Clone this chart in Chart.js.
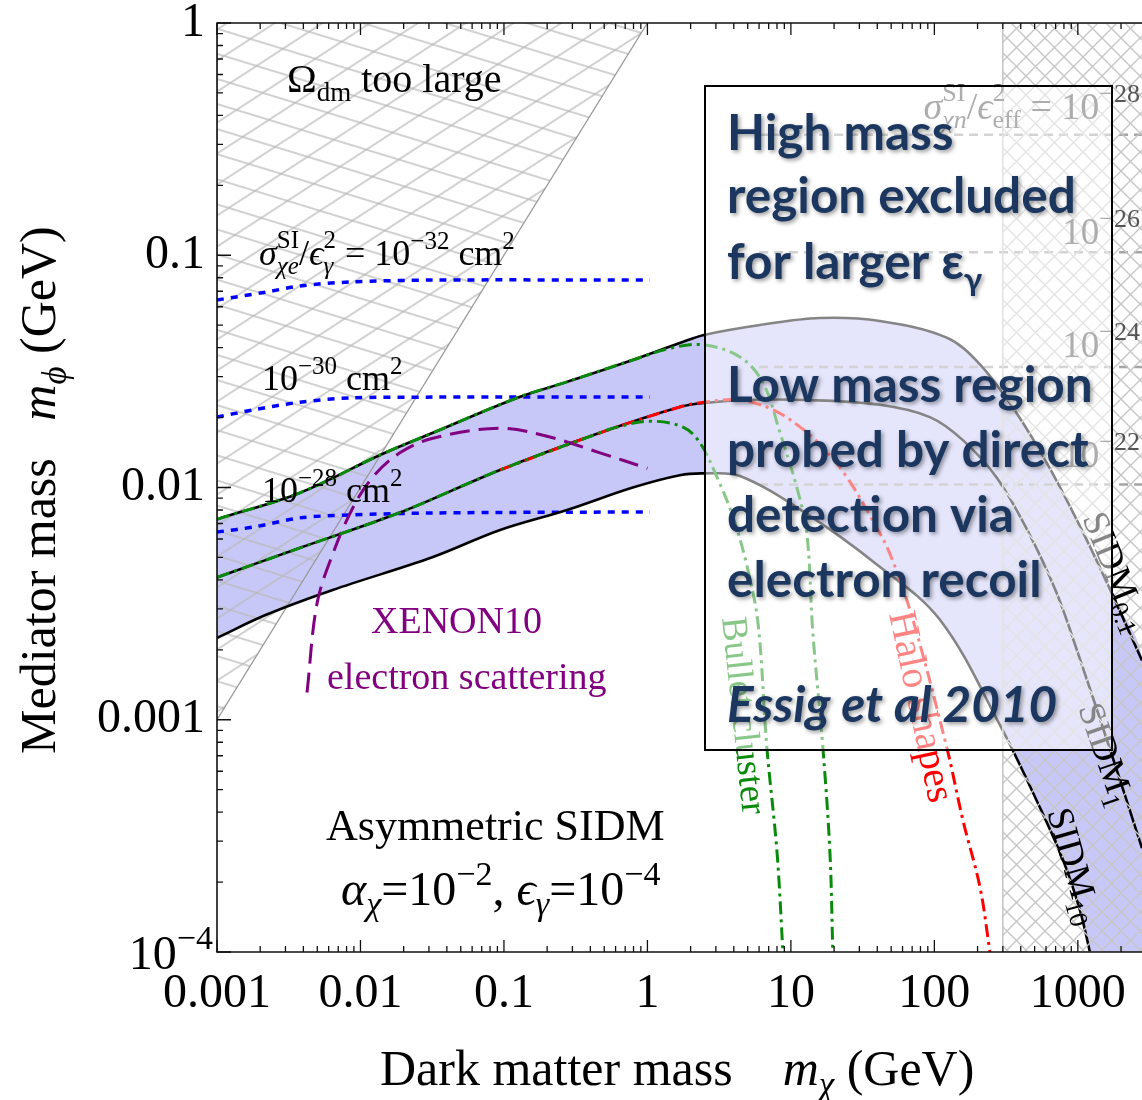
<!DOCTYPE html>
<html>
<head>
<meta charset="utf-8">
<script src="https://cdn.jsdelivr.net/npm/chart.js@4.4.1/dist/chart.umd.min.js"></script>
<style>
  html, body { margin: 0; padding: 0; background: #fff; }
  canvas { display: block; }
</style>
</head>
<body>
<canvas id="c" width="1142" height="1100"></canvas>
<script>
// ---- axis ranges and ticks ----
const X_MIN = 0.001, X_MAX = 2800;
const Y_MIN = 1e-4, Y_MAX = 1;
const X_TICKS = [0.001, 0.01, 0.1, 1, 10, 100, 1000];
const X_TICK_LABELS = ['0.001', '0.01', '0.1', '1', '10', '100', '1000'];
const Y_TICKS = [1e-4, 0.001, 0.01, 0.1, 1];
const Y_TICK_LABELS = ['', '0.001', '0.01', '0.1', '1'];

// ---- SIDM contours: [m_chi (GeV), m_phi (GeV)] ----
const sidm01 = [[0.001,0.0073],[0.0038,0.0095],[0.0137,0.0138],[0.032,0.0172],[0.123,0.0243],[0.275,0.0285],[0.79,0.0354],[1.68,0.0419],[2.48,0.0454],[6.1,0.0501],[15.9,0.0537],[41.7,0.0521],[122,0.0442],[207,0.034],[363,0.0215],[628,0.0123],[1102,0.0063],[1726,0.0035],[2800,0.0018]];
const sidm1 = [[0.001,0.0041],[0.0038,0.0055],[0.0188,0.0078],[0.094,0.0119],[0.467,0.0172],[1.68,0.0222],[2.48,0.0231],[5,0.0238],[12.9,0.0238],[41.7,0.0227],[93,0.0201],[158,0.016],[273,0.011],[442,0.0066],[700,0.0036],[984,0.002],[1671,0.00075],[2800,0.00028]];
const sidm10 = [[0.001,0.00225],[0.0022,0.00283],[0.0064,0.00362],[0.032,0.00502],[0.094,0.00656],[0.275,0.008],[0.79,0.01],[1.68,0.0113],[2.48,0.0115],[4.42,0.0112],[12.9,0.0077],[39.1,0.0047],[109,0.0027],[286,0.00095],[543,0.00042],[786,0.00025],[1032,0.000152],[1213,0.0001],[2800,0.00001]];

// ---- astrophysical bounds ----
const bulletHigh = [[0.001,0.0073],[0.0038,0.0095],[0.0137,0.0138],[0.032,0.0172],[0.123,0.0243],[0.275,0.0285],[0.79,0.0354],[1.5,0.040],[2.48,0.0411],[4.42,0.0365],[6.4,0.0282],[8.4,0.0172],[11,0.01],[12.9,0.0064],[14.2,0.0024],[16.7,0.00076],[18.7,0.00027],[19.6,0.0001]];
const bulletLow = [[0.001,0.0041],[0.0038,0.0055],[0.0188,0.0078],[0.094,0.0119],[0.467,0.0172],[0.61,0.0182],[1.04,0.0193],[1.77,0.0182],[2.32,0.0156],[3.05,0.0111],[3.94,0.0075],[4.94,0.0046],[5.9,0.0026],[6.8,0.00076],[8.0,0.00027],[8.8,0.0001]];
const haloShapes = [[0.094,0.0119],[0.467,0.0172],[1.68,0.0222],[2.48,0.0233],[4.42,0.0238],[7.5,0.0216],[11.6,0.0182],[16.7,0.0149],[24.5,0.0111],[37.2,0.0072],[48.9,0.0052],[70.8,0.0027],[122,0.00076],[158,0.00037],[208,0.00019],[244,0.0001]];

// ---- XENON10 electron scattering limit ----
const xenon10 = [[0.00424,0.00131],[0.00498,0.00317],[0.00643,0.0052],[0.00887,0.0082],[0.0122,0.0111],[0.0188,0.0141],[0.032,0.0163],[0.094,0.018],[0.209,0.0165],[0.467,0.0141],[1.0,0.0121]];

// ---- constant sigma_{chi e} / eps^2 contours ----
const sigmaE32 = [[0.001,0.0642],[0.00223,0.0695],[0.00378,0.0738],[0.00845,0.0767],[0.032,0.0782],[1.04,0.0782]];
const sigmaE30 = [[0.001,0.0201],[0.0018,0.0216],[0.00378,0.0233],[0.00845,0.0243],[0.032,0.0245],[1.04,0.0245]];
const sigmaE28 = [[0.001,0.00643],[0.0018,0.00676],[0.00378,0.0074],[0.00845,0.00762],[0.032,0.00777],[1.04,0.00785]];

// ---- constant sigma_{chi n} / eps_eff^2 levels (1e-28, 1e-26, 1e-24, 1e-22 cm^2) ----
const sigmaNLevels = [0.33, 0.103, 0.033, 0.0103];
const sigmaNStart = 6;

// ---- excluded regions ----
const relicRegion = [[0.001,1],[0.001,0.001],[1,1]];
const highMassCut = 300;

const canvas = document.getElementById('c');
const ctx = canvas.getContext('2d');

const pts = arr => arr.map(([x, y]) => ({ x, y }));

function stripePattern(spacing, angle, color, width) {
  const tile = document.createElement('canvas');
  tile.width = 16; tile.height = spacing;
  const g = tile.getContext('2d');
  g.strokeStyle = color; g.lineWidth = width;
  g.beginPath(); g.moveTo(0, spacing / 2); g.lineTo(16, spacing / 2); g.stroke();
  const p = ctx.createPattern(tile, 'repeat');
  p.setTransform(new DOMMatrix().rotateSelf(angle));
  return p;
}
function crossPattern(size, color, width) {
  const tile = document.createElement('canvas');
  tile.width = size; tile.height = size;
  const g = tile.getContext('2d');
  g.strokeStyle = color; g.lineWidth = width;
  g.beginPath();
  g.moveTo(-2, -2); g.lineTo(size + 2, size + 2);
  g.moveTo(size + 2, -2); g.lineTo(-2, size + 2);
  g.stroke();
  return ctx.createPattern(tile, 'repeat');
}

const hatchA = stripePattern(24, 17, '#b8b8b8', 1.3);
const hatchB = stripePattern(26, -33, '#b8b8b8', 1.3);
const hatchX = crossPattern(19, '#c6c6c6', 1.4);

const BAND = 'rgb(200,200,248)';

function curve(label, data, color, width, dash, order, tension) {
  return {
    label, data: pts(data), borderColor: color, borderWidth: width,
    borderDash: dash || [], fill: false, order, tension: tension ?? 0.35,
    pointRadius: 0, borderCapStyle: 'butt'
  };
}

const datasets = [
  // allowed SIDM band between sigma/m = 0.1 and 10 cm^2/g
  { label: 'band', data: pts(sidm01.concat(sidm10.slice().reverse())), fill: 'shape',
    backgroundColor: BAND, borderWidth: 0, pointRadius: 0, order: 100, tension: 0.35 },
  // relic abundance exclusion (m_phi > m_chi)
  { label: 'relicA', data: pts(relicRegion), fill: 'shape', backgroundColor: hatchA,
    borderWidth: 0, pointRadius: 0, order: 90, tension: 0 },
  { label: 'relicB', data: pts(relicRegion), fill: 'shape', backgroundColor: hatchB,
    borderColor: '#9a9a9a', borderWidth: 1.3, pointRadius: 0, order: 89, tension: 0 },
  // high-mass exclusion, hatched over the contours
  { label: 'highMass', data: pts([[X_MAX,1],[highMassCut,1],[highMassCut,Y_MIN],[X_MAX,Y_MIN]]), fill: 'shape',
    backgroundColor: hatchX, borderColor: '#c4c4c4', borderWidth: 1.5, pointRadius: 0, order: 35, tension: 0 },
  curve('e32', sigmaE32, '#0000ff', 3.5, [7, 7], 50, 0.3),
  curve('e30', sigmaE30, '#0000ff', 3.5, [7, 7], 50, 0.3),
  curve('e28', sigmaE28, '#0000ff', 3.5, [7, 7], 50, 0.3),
  ...sigmaNLevels.map((v, i) => curve('n' + i, [[sigmaNStart, v], [X_MAX, v]], '#a4a4a4', 2.5, [9, 6], 50, 0)),
  curve('sidm01', sidm01, '#000', 2.6, [], 40),
  curve('sidm1', sidm1, '#000', 2.6, [], 40),
  curve('sidm10', sidm10, '#000', 2.6, [], 40),
  curve('xenon10', xenon10, '#800080', 3, [20, 9], 30, 0.35),
  curve('bulletHigh', bulletHigh, '#0a8a0a', 3, [13, 5, 3, 5], 20),
  curve('bulletLow', bulletLow, '#0a8a0a', 3, [13, 5, 3, 5], 20),
  curve('halo', haloShapes, '#ff0000', 3, [13, 5, 3, 5], 21)
];

// ---- text helpers ----
const SERIF = '"Liberation Serif", "DejaVu Serif", serif';
const fnt = (s, st) => `${st || ''} ${s}px ${SERIF}`;
const R = (t, s, st = '', dy = 0) => ({ t, s, st, dy });
const S = (a, b) => ({ stack: [a, b] });

function runWidth(c, r) {
  if (r.stack) return Math.max(...r.stack.map(q => { c.font = fnt(q.s, q.st); return c.measureText(q.t).width; }));
  c.font = fnt(r.s, r.st); return c.measureText(r.t).width;
}
function drawRuns(c, x, y, runs, align) {
  const w = runs.map(r => runWidth(c, r));
  const total = w.reduce((a, b) => a + b, 0);
  let cx = align === 'right' ? x - total : align === 'center' ? x - total / 2 : x;
  runs.forEach((r, i) => {
    const parts = r.stack ? r.stack : [r];
    parts.forEach(q => { c.font = fnt(q.s, q.st); c.fillText(q.t, cx, y + q.dy); });
    cx += w[i];
  });
}
function rotatedRuns(c, x, y, angleDeg, runs, color) {
  c.save(); c.translate(x, y); c.rotate(angleDeg * Math.PI / 180);
  c.fillStyle = color; drawRuns(c, 0, 0, runs, 'left'); c.restore();
}

const frameAndLabels = {
  id: 'frameAndLabels',
  afterDatasetsDraw(chart) {
    const { ctx: c, chartArea: a, scales: { x, y } } = chart;
    c.save();
    // frame
    c.strokeStyle = '#111'; c.lineWidth = 1.6;
    c.beginPath();
    c.moveTo(a.right + 2, a.top); c.lineTo(a.left, a.top); c.lineTo(a.left, a.bottom); c.lineTo(a.right + 2, a.bottom);
    c.stroke();
    // inward ticks
    c.lineWidth = 1.3; c.beginPath();
    for (let e = -3; e <= 3; e++) for (let m = 1; m <= 9; m++) {
      const v = m * Math.pow(10, e);
      if (v < x.min * 0.999 || v > x.max) continue;
      const px = x.getPixelForValue(v), len = m === 1 ? 12 : 6;
      c.moveTo(px, a.bottom); c.lineTo(px, a.bottom - len);
      c.moveTo(px, a.top); c.lineTo(px, a.top + len);
    }
    for (let e = -4; e <= 0; e++) for (let m = 1; m <= 9; m++) {
      const v = m * Math.pow(10, e);
      if (v < y.min * 0.999 || v > y.max * 1.001) continue;
      const py = y.getPixelForValue(v), len = m === 1 ? 14 : 6;
      c.moveTo(a.left, py); c.lineTo(a.left + len, py);
    }
    c.stroke();

    c.textBaseline = 'alphabetic';
    // relic abundance label
    c.fillStyle = '#000';
    drawRuns(c, 287, 92, [R('Ω', 40), R('dm', 27, '', 9), R(' too large', 40)]);
    // sigma_{chi e} labels
    drawRuns(c, 259, 265, [R('σ', 36, 'italic'), S(R('SI', 25, '', -17), R('χe', 25, 'italic', 9)), R('/', 36),
      R('ϵ', 36, 'italic'), S(R('2', 25, '', -17), R('γ', 25, 'italic', 9)), R(' = 10', 36), R('−32', 25, '', -16),
      R(' cm', 36), R('2', 25, '', -16)]);
    drawRuns(c, 262, 390, [R('10', 36), R('−30', 25, '', -16), R(' cm', 36), R('2', 25, '', -16)]);
    drawRuns(c, 262, 502, [R('10', 36), R('−28', 25, '', -16), R(' cm', 36), R('2', 25, '', -16)]);
    // XENON10
    c.fillStyle = '#800080';
    drawRuns(c, 371, 633, [R('XENON10', 38)]);
    drawRuns(c, 327, 689, [R('electron scattering', 38)]);
    // model parameters
    c.fillStyle = '#000';
    drawRuns(c, 326, 840, [R('Asymmetric SIDM', 44)]);
    drawRuns(c, 341, 905, [R('α', 48, 'italic'), R('χ', 34, 'italic', 10), R('=10', 48), R('−2', 34, '', -20), R(', ', 48),
      R('ϵ', 48, 'italic'), R('γ', 34, 'italic', 10), R('=10', 48), R('−4', 34, '', -20)]);
    // sigma_{chi n} labels
    c.fillStyle = '#555';
    drawRuns(c, 1140, 119, [R('σ', 38, 'italic'), S(R('SI', 26, '', -18), R('χn', 26, 'italic', 9)), R('/', 38),
      R('ϵ', 38, 'italic'), S(R('2', 26, '', -18), R('eff', 26, '', 9)), R(' = 10', 38), R('−28', 26, '', -17)], 'right');
    drawRuns(c, 1140, 244, [R('10', 37), R('−26', 26, '', -17)], 'right');
    drawRuns(c, 1140, 357, [R('10', 37), R('−24', 26, '', -17)], 'right');
    drawRuns(c, 1140, 467, [R('10', 37), R('−22', 26, '', -17)], 'right');
    // curve labels
    rotatedRuns(c, 722, 618, 84, [R('Bullet cluster', 37)], '#0a8a0a');
    rotatedRuns(c, 889, 614, 78, [R('Halo shapes', 40)], '#ff0000');
    rotatedRuns(c, 1082, 518, 68, [R('SIDM', 37), R('0.1', 26, '', 8)], '#000');
    rotatedRuns(c, 1078, 708, 71, [R('SIDM', 37), R('1', 26, '', 8)], '#000');
    rotatedRuns(c, 1047, 812, 74, [R('SIDM', 37), R('10', 26, '', 8)], '#000');
    c.restore();
  },
  afterDraw(chart) {
    const { ctx: c, scales: { y } } = chart;
    c.save();
    // lowest y tick label with exponent
    c.fillStyle = '#000'; c.textBaseline = 'alphabetic';
    drawRuns(c, 213, y.getPixelForValue(Y_MIN) + 17, [R('10', 48), R('−4', 34, '', -20)], 'right');
    // axis titles
    drawRuns(c, 380, 1085, [R('Dark matter mass', 50), R('    ', 50), R('m', 50, 'italic'), R('χ', 35, 'italic', 11), R(' (GeV)', 50)]);
    rotatedRuns(c, 55, 754, -90, [R('Mediator mass', 50), R('   ', 50), R('m', 50, 'italic'), R('ϕ', 35, 'italic', 11), R(' (GeV)', 50)], '#000');

    // annotation box
    const bx = 705, by = 86, bw = 407, bh = 664;
    c.fillStyle = 'rgba(255,255,255,0.52)';
    c.fillRect(bx, by, bw, bh);
    c.strokeStyle = '#000'; c.lineWidth = 2;
    c.strokeRect(bx, by, bw, bh);
    c.fillStyle = '#1c375f';
    c.shadowColor = 'rgba(0,0,0,0.4)'; c.shadowBlur = 4; c.shadowOffsetX = 2; c.shadowOffsetY = 2;
    const SANS = '"Lato", "Open Sans", sans-serif';
    const big = `bold 49.5px ${SANS}`;
    c.font = big;
    c.fillText('High mass', 727, 150);
    c.fillText('region excluded', 727, 213);
    c.fillText('for larger ε', 727, 279);
    const w = c.measureText('for larger ε').width;
    c.font = `bold 33px ${SANS}`;
    c.fillText('γ', 727 + w, 291);
    c.font = big;
    c.fillText('Low mass region', 727, 402);
    c.fillText('probed by direct', 727, 467);
    c.fillText('detection via', 727, 532);
    c.fillText('electron recoil', 727, 597);
    c.font = `italic bold 49.5px ${SANS}`;
    c.fillText('Essig et al 2010', 727, 722);
    c.restore();
  }
};

new Chart(ctx, {
  type: 'line',
  data: { datasets },
  options: {
    responsive: false,
    animation: false,
    events: [],
    layout: { padding: { top: 23, right: 0, left: 0, bottom: 0 } },
    plugins: { legend: { display: false }, tooltip: { enabled: false }, filler: { propagate: false } },
    elements: { point: { radius: 0 }, line: { capBezierPoints: false } },
    scales: {
      x: {
        type: 'logarithmic', min: X_MIN, max: X_MAX, position: 'bottom',
        grid: { display: false, drawTicks: false }, border: { display: false },
        afterBuildTicks: s => { s.ticks = X_TICKS.map(v => ({ value: v })); },
        ticks: {
          autoSkip: false, maxRotation: 0, padding: 14, color: '#000',
          font: { family: SERIF, size: 48 },
          callback: v => X_TICK_LABELS[X_TICKS.findIndex(t => Math.abs(t - v) / t < 1e-6)] ?? ''
        },
        afterFit: s => { s.height = 148; s.paddingLeft = 0; s.paddingRight = 0; }
      },
      y: {
        type: 'logarithmic', min: Y_MIN, max: Y_MAX, position: 'left',
        grid: { display: false, drawTicks: false }, border: { display: false },
        afterBuildTicks: s => { s.ticks = Y_TICKS.map(v => ({ value: v })); },
        ticks: {
          autoSkip: false, padding: 12, color: '#000',
          font: { family: SERIF, size: 48 },
          callback: v => Y_TICK_LABELS[Y_TICKS.findIndex(t => Math.abs(t - v) / t < 1e-6)] ?? ''
        },
        afterFit: s => { s.width = 217; s.paddingTop = 0; s.paddingBottom = 0; }
      }
    }
  },
  plugins: [frameAndLabels]
});
</script>
</body>
</html>
